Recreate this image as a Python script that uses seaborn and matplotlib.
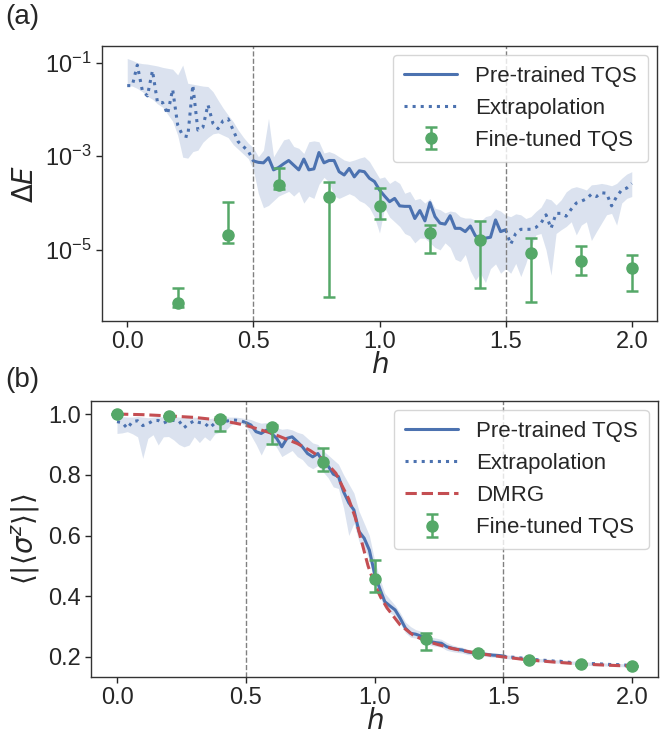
import numpy as np
import matplotlib
matplotlib.use("Agg")
import matplotlib.pyplot as plt
import matplotlib.ticker as mticker
import seaborn as sns

# grid of transverse field values
h = np.linspace(0, 2, 101)

# (a) energy error, stored as log10 values
dE_log = [-1.49, -1.49, -1.05, -1.60, -1.71, -1.17, -1.85, -1.85, -2.10, -1.57, -2.33, -2.56, -2.58,
          -1.48, -2.44, -2.38, -1.90, -2.30, -2.41, -2.24, -2.20, -2.44, -2.69, -2.79, -2.89, -3.10,
          -3.13, -3.14, -3.03, -3.29, -3.24, -3.16, -3.09, -3.19, -3.29, -3.06, -3.29, -3.27, -2.92,
          -3.14, -3.09, -3.09, -3.33, -3.40, -3.26, -3.44, -3.31, -3.33, -3.47, -3.54, -3.72,
          -3.85, -3.97, -3.90, -4.06, -4.07, -4.07, -4.33, -4.16, -4.38, -3.99, -4.29, -4.43, -4.45,
          -4.27, -4.54, -4.54, -4.61, -4.49, -4.70, -4.75, -4.75, -4.73, -4.36, -4.61, -4.57,
          -4.88, -4.65, -4.56, -4.56, -4.56, -4.52, -4.43, -4.25, -4.54, -4.22, -4.22, -4.28, -4.13,
          -4.00, -3.96, -3.91, -3.81, -3.86, -3.78, -3.79, -4.06, -3.86, -3.72, -3.68, -3.58]
dE_hi_log = [-0.91, -0.95, -1.00, -1.02, -1.03, -1.05, -1.07, -1.10, -1.12, -1.14, -1.26, -1.05, -1.44,
             -1.46, -1.48, -1.50, -1.51, -1.62, -1.80, -1.97, -2.12, -2.26, -2.44, -2.59, -2.72, -2.82,
             -3.01, -2.87, -2.19, -3.01, -2.83, -2.65, -2.62, -2.79, -2.83, -2.94, -2.69, -2.67, -2.69,
             -2.93, -2.90, -2.94, -3.01, -3.08, -3.11, -3.08, -3.04, -3.01, -3.11, -3.29, -3.47,
             -3.44, -3.58, -3.51, -3.58, -3.79, -3.75, -3.93, -3.90, -4.00, -3.90, -4.11, -4.14, -4.21,
             -4.17, -4.19, -4.29, -4.32, -4.32, -4.36, -4.39, -4.29, -4.26, -4.13, -4.17, -4.26,
             -4.29, -4.23, -4.25, -4.33, -4.29, -4.18, -4.09, -3.90, -3.93, -4.04, -3.93, -3.76, -3.68,
             -3.65, -3.68, -3.72, -3.61, -3.60, -3.58, -3.60, -3.63, -3.58, -3.47, -3.38, -3.33]
dE_lo_log = [-1.49, -1.50, -1.55, -1.62, -1.72, -1.78, -1.88, -1.95, -2.10, -2.25, -2.55, -3.02, -3.04,
             -2.90, -2.87, -2.70, -2.60, -2.52, -2.50, -2.55, -2.60, -2.75, -2.85, -2.95, -3.05, -3.29,
             -3.80, -4.10, -4.05, -3.95, -3.85, -3.80, -3.75, -3.85, -3.75, -4.00, -3.85, -3.90, -3.60,
             -3.45, -3.55, -3.85, -3.90, -3.85, -3.80, -3.85, -3.95, -4.00, -4.10, -4.30, -4.64,
             -4.10, -4.30, -4.40, -4.50, -4.65, -4.70, -4.85, -4.75, -4.75, -4.85, -4.95, -5.00, -4.85,
             -4.95, -5.20, -5.25, -5.10, -5.45, -5.65, -5.50, -5.70, -5.40, -5.30, -5.50, -5.40,
             -5.50, -5.29, -5.57, -5.29, -4.93, -4.68, -4.65, -5.00, -5.54, -4.65, -4.57, -4.50, -4.40,
             -4.68, -4.47, -4.40, -4.80, -4.61, -4.43, -4.25, -4.22, -4.47, -4.00, -3.90, -3.86]

ft_h = [0.2, 0.4, 0.6, 0.8, 1.0, 1.2, 1.4, 1.6, 1.8, 2.0]
ft_log = [-6.13, -4.68, -3.61, -3.88, -4.06, -4.65, -4.79, -5.06, -5.24, -5.38]
ft_hi_log = [-5.82, -3.97, -3.26, -3.54, -3.67, -4.47, -4.38, -4.74, -4.92, -5.11]
ft_lo_log = [-6.23, -4.85, -3.70, -6.00, -4.33, -5.07, -5.82, -6.12, -5.54, -5.88]

# (b) magnetisation
mz = [0.975, 0.972, 0.953, 0.975, 0.978, 0.962, 0.968, 0.978, 0.979, 0.970, 0.978, 0.979, 0.978,
      0.955, 0.968, 0.978, 0.972, 0.970, 0.955, 0.970, 0.978, 0.975, 0.980, 0.980, 0.978, 0.972,
      0.964, 0.942, 0.936, 0.947, 0.936, 0.920, 0.892, 0.920, 0.925, 0.909, 0.892, 0.870, 0.859,
      0.870, 0.843, 0.829, 0.802, 0.794, 0.744, 0.708, 0.684, 0.613, 0.591, 0.552, 0.475,
      0.426, 0.382, 0.368, 0.355, 0.327, 0.295, 0.278, 0.275, 0.269, 0.258, 0.250, 0.247, 0.245,
      0.234, 0.229, 0.225, 0.223, 0.217, 0.214, 0.212, 0.210, 0.208, 0.206, 0.205, 0.203,
      0.200, 0.199, 0.197, 0.196, 0.193, 0.192, 0.190, 0.189, 0.188, 0.186, 0.186, 0.184, 0.182,
      0.181, 0.180, 0.179, 0.178, 0.178, 0.177, 0.176, 0.175, 0.175, 0.174, 0.173, 0.172]
mz_hi = [0.990, 0.992, 0.990, 0.990, 0.992, 0.990, 0.988, 0.990, 0.992, 0.990, 0.990, 0.992, 0.990,
         0.988, 0.990, 0.990, 0.988, 0.990, 0.985, 0.988, 0.990, 0.990, 0.990, 0.990, 0.988, 0.985,
         0.982, 0.975, 0.970, 0.972, 0.965, 0.955, 0.950, 0.952, 0.948, 0.940, 0.935, 0.920, 0.905,
         0.900, 0.880, 0.865, 0.850, 0.835, 0.800, 0.770, 0.740, 0.680, 0.640, 0.600, 0.520,
         0.460, 0.410, 0.390, 0.370, 0.345, 0.315, 0.300, 0.290, 0.285, 0.275, 0.265, 0.262, 0.258,
         0.248, 0.240, 0.235, 0.232, 0.226, 0.222, 0.220, 0.217, 0.215, 0.213, 0.211, 0.209,
         0.206, 0.205, 0.203, 0.201, 0.199, 0.197, 0.195, 0.194, 0.193, 0.191, 0.190, 0.189, 0.187,
         0.186, 0.185, 0.184, 0.183, 0.182, 0.181, 0.180, 0.179, 0.178, 0.178, 0.177, 0.176]
mz_lo = [0.936, 0.938, 0.942, 0.935, 0.925, 0.854, 0.920, 0.932, 0.898, 0.925, 0.926, 0.915, 0.900,
         0.892, 0.898, 0.925, 0.906, 0.925, 0.912, 0.935, 0.940, 0.945, 0.962, 0.975, 0.970, 0.962,
         0.930, 0.900, 0.865, 0.900, 0.910, 0.890, 0.860, 0.870, 0.880, 0.860, 0.850, 0.830, 0.820,
         0.830, 0.810, 0.790, 0.760, 0.755, 0.690, 0.600, 0.640, 0.580, 0.560, 0.520, 0.440,
         0.400, 0.360, 0.345, 0.335, 0.310, 0.280, 0.265, 0.262, 0.256, 0.245, 0.238, 0.235, 0.232,
         0.222, 0.218, 0.215, 0.213, 0.208, 0.206, 0.204, 0.202, 0.201, 0.199, 0.198, 0.197,
         0.194, 0.193, 0.191, 0.189, 0.187, 0.186, 0.184, 0.183, 0.182, 0.180, 0.179, 0.178, 0.176,
         0.175, 0.174, 0.173, 0.172, 0.171, 0.171, 0.170, 0.169, 0.168, 0.168, 0.167, 0.166]

dmrg_h = [0, 0.1, 0.2, 0.3, 0.4, 0.5, 0.6, 0.7, 0.75, 0.8, 0.85, 0.9, 0.925, 0.95, 0.975, 1.0,
          1.025, 1.05, 1.1, 1.15, 1.2, 1.3, 1.4, 1.5, 1.6, 1.7, 1.8, 1.9, 2.0]
dmrg = [1.0, 0.998, 0.994, 0.989, 0.980, 0.963, 0.937, 0.903, 0.880, 0.852, 0.805, 0.720, 0.660,
        0.580, 0.500, 0.440, 0.395, 0.360, 0.305, 0.272, 0.252, 0.228, 0.212, 0.200, 0.190, 0.183,
        0.177, 0.173, 0.170]

mft_h = [0.0, 0.2, 0.4, 0.6, 0.8, 1.0, 1.2, 1.4, 1.6, 1.8, 2.0]
mft = [1.0, 0.994, 0.985, 0.958, 0.841, 0.456, 0.259, 0.214, 0.190, 0.176, 0.170]
mft_hi = [1.0, 0.994, 0.990, 0.965, 0.887, 0.519, 0.278, 0.218, 0.192, 0.178, 0.171]
mft_lo = [1.0, 0.994, 0.945, 0.900, 0.812, 0.415, 0.223, 0.209, 0.188, 0.174, 0.169]

sns.set_theme(style="ticks", palette="deep")
plt.rcParams["font.family"] = ["Liberation Sans", "DejaVu Sans"]
plt.rcParams["mathtext.fontset"] = "dejavusans"
blue, green, red = sns.color_palette("deep")[0], sns.color_palette("deep")[2], sns.color_palette("deep")[3]

W, H = 663, 742
fig = plt.figure(figsize=(W / 100, H / 100), dpi=100)
ax1 = fig.add_axes([102 / W, (H - 321) / H, 555 / W, 275.3 / H])
ax2 = fig.add_axes([91.25 / W, (H - 677) / H, 566.5 / W, 276 / H])

h = np.round(h, 2)
mid = (h >= 0.5) & (h <= 1.5)
left = h <= 0.5
right = h >= 1.5

# ---- panel (a)
dE = 10 ** np.array(dE_log)
ax1.fill_between(h, 10 ** np.array(dE_lo_log), 10 ** np.array(dE_hi_log), color=blue, alpha=0.2, lw=0)
sns.lineplot(x=h[mid], y=dE[mid], ax=ax1, color=blue, lw=2.2, label="Pre-trained TQS")
sns.lineplot(x=h[left], y=dE[left], ax=ax1, color=blue, lw=2.2, ls=":", label="Extrapolation")
sns.lineplot(x=h[right], y=dE[right], ax=ax1, color=blue, lw=2.2, ls=":")
ft = 10 ** np.array(ft_log)
ax1.errorbar(ft_h, ft, yerr=[ft - 10 ** np.array(ft_lo_log), 10 ** np.array(ft_hi_log) - ft],
             fmt="o", color=green, ms=8, capsize=4, elinewidth=1.8, capthick=1.8, label="Fine-tuned TQS")
ax1.set_yscale("log")
ax1.set_ylim(10 ** -6.52, 10 ** -0.637)
ax1.set_xlim(-0.1, 2.1)
ax1.set_yticks([1e-5, 1e-3, 1e-1])
ax1.yaxis.set_minor_locator(mticker.NullLocator())
ax1.set_ylabel(r"$\Delta E$", fontsize=20)
ax1.set_xlabel(r"$h$", fontsize=20, labelpad=0)

# ---- panel (b)
mz = np.array(mz)
ax2.fill_between(h, mz_lo, mz_hi, color=blue, alpha=0.2, lw=0)
sns.lineplot(x=h[mid], y=mz[mid], ax=ax2, color=blue, lw=2.2, label="Pre-trained TQS")
sns.lineplot(x=h[left], y=mz[left], ax=ax2, color=blue, lw=2.2, ls=":", label="Extrapolation")
sns.lineplot(x=h[right], y=mz[right], ax=ax2, color=blue, lw=2.2, ls=":")
sns.lineplot(x=dmrg_h, y=dmrg, ax=ax2, color=red, lw=2.2, ls="--", label="DMRG")
mft = np.array(mft)
ax2.errorbar(mft_h, mft, yerr=[mft - np.array(mft_lo), np.array(mft_hi) - mft],
             fmt="o", color=green, ms=8, capsize=4, elinewidth=1.8, capthick=1.8, label="Fine-tuned TQS")
ax2.set_xlim(-0.1, 2.1)
ax2.set_ylim(0.134, 1.043)
ax2.set_yticks([0.2, 0.4, 0.6, 0.8, 1.0])
ax2.set_ylabel(r"$\langle|\langle\sigma^z\rangle|\rangle$", fontsize=20)
ax2.set_xlabel(r"$h$", fontsize=20, labelpad=0)

for ax in (ax1, ax2):
    ax.axvline(0.5, color="gray", ls="--", lw=1)
    ax.axvline(1.5, color="gray", ls="--", lw=1)
    ax.set_xticks([0.0, 0.5, 1.0, 1.5, 2.0])
    ax.tick_params(labelsize=17, length=4, width=1)
    for s in ax.spines.values():
        s.set_visible(True)
        s.set_linewidth(1.0)
        s.set_color("#333333")
    ax.legend(loc="upper right", fontsize=16, handlelength=2.4, borderpad=0.5,
              labelspacing=0.5, borderaxespad=0.4)

fig.text(0.008, 0.995, "(a)", fontsize=20, va="top")
fig.text(0.008, 0.505, "(b)", fontsize=20, va="top")

fig.savefig("out.png", dpi=100)
